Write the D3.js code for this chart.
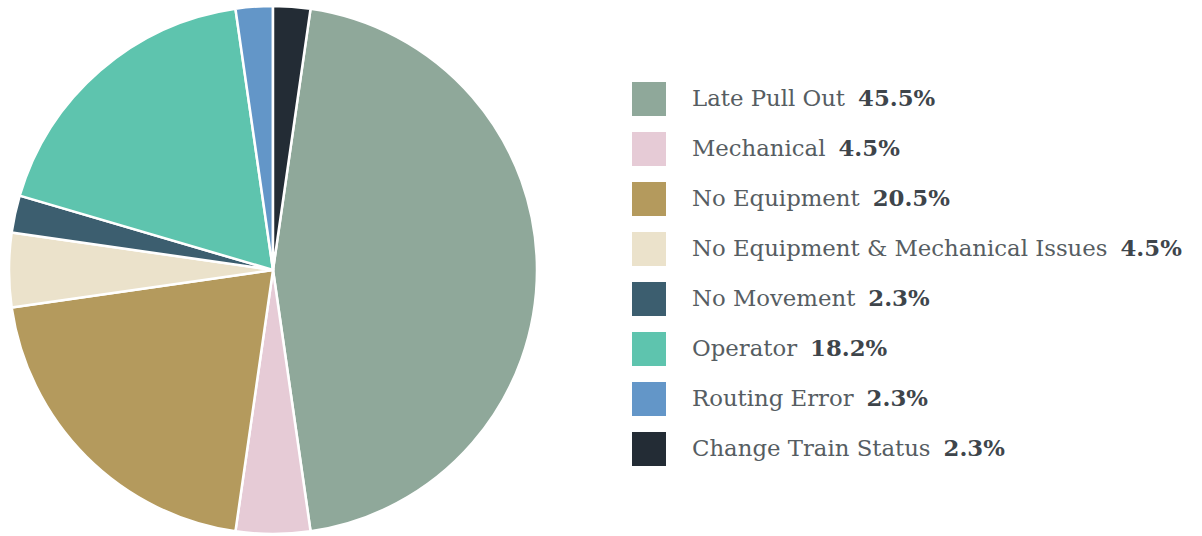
<!DOCTYPE html>
<html>
<head>
<meta charset="utf-8">
<script src="https://cdn.jsdelivr.net/npm/d3@7"></script>
<style>
  html, body { margin: 0; padding: 0; background: #ffffff; }
  svg { display: block; }
</style>
</head>
<body>
<svg id="chart" width="1202" height="536"></svg>
<script>
const categories = ["Late Pull Out", "Mechanical", "No Equipment", "No Equipment & Mechanical Issues", "No Movement", "Operator", "Routing Error", "Change Train Status"];
const counts = [20, 2, 9, 2, 1, 8, 1, 1];
const percentLabels = ["45.5%", "4.5%", "20.5%", "4.5%", "2.3%", "18.2%", "2.3%", "2.3%"];
const colors = ["#8fa89a", "#e6cbd6", "#b49a5d", "#ebe2cb", "#3c5e6f", "#5ec4ae", "#6396c8", "#232c35"];

const svg = d3.select("#chart");
const cx = 273, cy = 270, r = 264;
const total = d3.sum(counts);
const offset = 2 * Math.PI * counts[counts.length - 1] / total;

const pie = d3.pie().sort(null).value(d => d)
  .startAngle(offset).endAngle(offset + 2 * Math.PI);
const arc = d3.arc().innerRadius(0).outerRadius(r);

const g = svg.append("g").attr("transform", `translate(${cx},${cy})`);
g.selectAll("path").data(pie(counts)).enter().append("path")
  .attr("d", arc)
  .attr("fill", (d, i) => colors[i])
  .attr("stroke", "#ffffff")
  .attr("stroke-width", 2.5)
  .attr("stroke-linejoin", "round");

const y = d3.scaleBand().domain(categories).range([74, 474]).paddingInner(0);
const legend = svg.append("g");
const rows = legend.selectAll("g.row").data(categories).enter().append("g")
  .attr("class", "row")
  .attr("transform", d => `translate(0,${y(d) + y.bandwidth() / 2})`);
rows.append("rect")
  .attr("x", 632).attr("y", -17).attr("width", 34).attr("height", 34)
  .attr("fill", (d, i) => colors[i]);
const txt = rows.append("text")
  .attr("x", 692).attr("y", 7)
  .style("font-family", "'DejaVu Serif', serif")
  .style("font-size", "22.8px");
txt.append("tspan").attr("fill", "#565d62").text(d => d);
txt.append("tspan").attr("fill", "#3e454b").attr("dx", 13).style("font-weight", "bold")
  .text((d, i) => percentLabels[i]);
</script>
</body>
</html>
